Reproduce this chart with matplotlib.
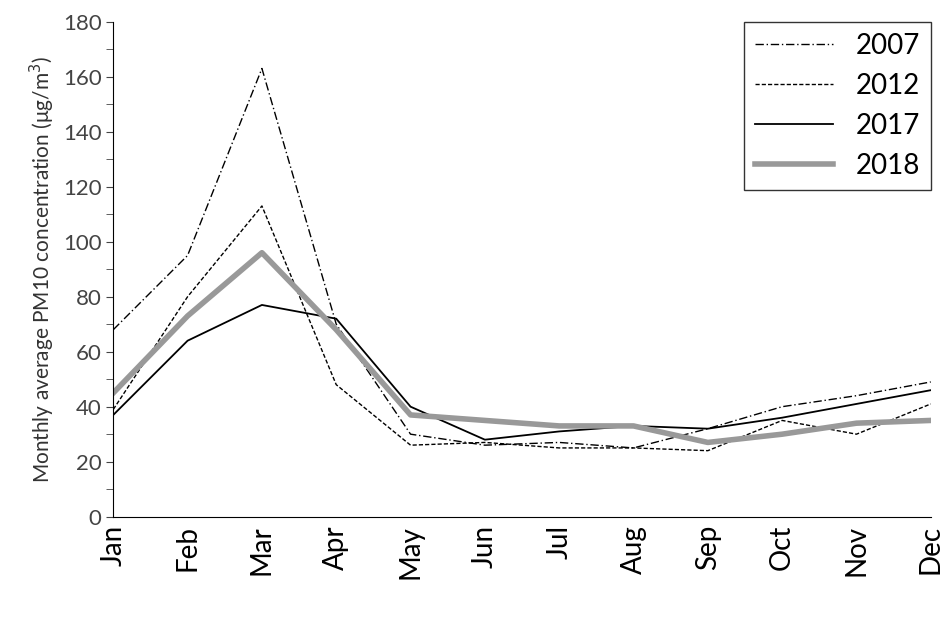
import matplotlib
matplotlib.use("Agg")
import matplotlib.pyplot as plt
from matplotlib.ticker import MultipleLocator

plt.rcParams['font.family'] = ['Lato', 'DejaVu Sans']

months = ["Jan", "Feb", "Mar", "Apr", "May", "Jun", "Jul", "Aug", "Sep", "Oct", "Nov", "Dec"]
pm_2007 = [68, 95, 163, 70, 30, 26, 27, 25, 32, 40, 44, 49]
pm_2012 = [39, 80, 113, 48, 26, 27, 25, 25, 24, 35, 30, 41]
pm_2017 = [37, 64, 77, 72, 40, 28, 31, 33, 32, 36, 41, 46]
pm_2018 = [45, 73, 96, 68, 37, 35, 33, 33, 27, 30, 34, 35]

fig = plt.figure(figsize=(9.44, 6.21), dpi=100)
ax = fig.add_axes([0.12, 0.168, 0.866, 0.797])

x = range(len(months))
ax.plot(x, pm_2007, color="black", lw=1, ls=(0, (6, 2, 1, 2)), label="2007")
ax.plot(x, pm_2012, color="black", lw=1, ls=(0, (3, 1.5)), label="2012")
ax.plot(x, pm_2017, color="black", lw=1.3, label="2017")
ax.plot(x, pm_2018, color="#999999", lw=4, label="2018")

ax.set_xlim(0, 11)
ax.set_ylim(0, 180)
ax.yaxis.set_major_locator(MultipleLocator(20))
ax.yaxis.set_minor_locator(MultipleLocator(10))
ax.set_xticks(list(x))
ax.set_xticklabels(months, rotation=90, fontsize=20)
ax.tick_params(axis="x", length=0, pad=6)
ax.tick_params(axis="y", labelsize=16, colors="#444444", which="both", direction="out", length=5)
for s in ["top", "right"]:
    ax.spines[s].set_visible(False)
ax.set_ylabel("Monthly average PM10 concentration (μg/m$^3$)", fontsize=15, color="#333333")

leg = ax.legend(loc="upper right", fontsize=20, frameon=True, fancybox=False,
                edgecolor="black", handlelength=2.8, borderaxespad=0.0)
leg.get_frame().set_linewidth(1)

fig.savefig("out.png", dpi=100)
